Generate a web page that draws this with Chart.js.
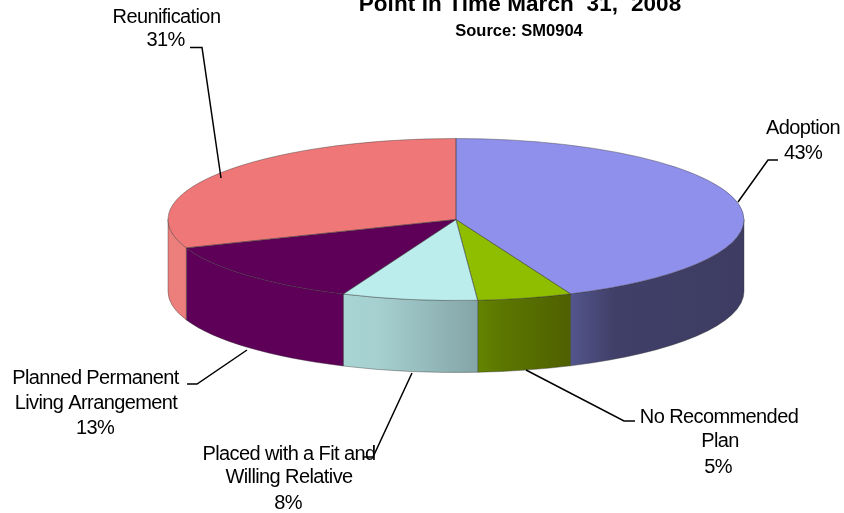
<!DOCTYPE html>
<html>
<head>
<meta charset="utf-8">
<style>html,body{margin:0;padding:0;background:#fff}#wrap{width:844px;height:513px}</style>
<script src="https://cdn.jsdelivr.net/npm/chart.js@4"></script>
</head>
<body>
<div id="wrap"><canvas id="c" width="844" height="513"></canvas></div>
<script>
const categories = ["Adoption","No Recommended Plan","Placed with a Fit and Willing Relative","Planned Permanent Living Arrangement","Reunification"];
const values = [43.49, 5.31, 7.6, 12.9, 30.7];
const faceColors = ["#8f8fec","#8fbe00","#bbeded","#5f0058","#ef7777"];
const wallStops = [
  ["#53568e","#403f68","#3e3c62"],
  ["#648400","#5c7700","#4f6000"],
  ["#a8d4d4","#a6d0d0","#84a5a8"],
  ["#5f0058","#5f0058","#5f0058"],
  ["#ec7f7b","#ec7f7b","#ec7f7b"]
];
const titleText = "Point In Time March  31,  2008";
const sourceText = "Source: SM0904";

const PIE = {x:456, y:219.5, rx:288, ry:81, depth:72};
const EDGE = "rgba(50,50,50,.5)";

const LABELS = [
  {i:4, lines:[["Reunification",166.5,17],["%",165.5,40]],
   leader:[[190,47.5],[202,47.5],[221,178]]},
  {i:0, lines:[["Adoption",803,128],["%",803,153]],
   leader:[[778,160],[768,160],[738,202]]},
  {i:3, lines:[["Planned Permanent",95.5,378.5],["Living Arrangement",96,403],["%",95,428]],
   leader:[[187,384],[197,384],[247,350]]},
  {i:2, lines:[["Placed with a Fit and",289,454],["Willing Relative",289,477],["%",288,503]],
   leader:[[363,457],[373,457],[412,373]]},
  {i:1, lines:[["No Recommended",719,417],["Plan",720,441],["%",718,467]],
   leader:[[635,421],[624,421],[526,370]]}
];

const pie3d = {
  id:"pie3d",
  beforeDatasetsDraw(chart){
    const ctx = chart.ctx;
    chart.getDatasetMeta(0).data.forEach((arc,i)=>{
      const s = Math.max(arc.startAngle,0), e = Math.min(arc.endAngle,Math.PI);
      if (e <= s) return;
      const x0 = PIE.x + PIE.rx*Math.cos(s), x1 = PIE.x + PIE.rx*Math.cos(e);
      const g = ctx.createLinearGradient(Math.min(x0,x1),0,Math.max(x0,x1),0);
      const st = wallStops[i];
      g.addColorStop(0, st[0]); g.addColorStop(.25, st[1]); g.addColorStop(1, st[2]);
      ctx.beginPath();
      ctx.ellipse(PIE.x,PIE.y,PIE.rx,PIE.ry,0,s,e);
      ctx.ellipse(PIE.x,PIE.y+PIE.depth,PIE.rx,PIE.ry,0,e,s,true);
      ctx.closePath();
      ctx.fillStyle = g; ctx.fill();
      ctx.strokeStyle = EDGE; ctx.lineWidth = .8; ctx.stroke();
    });
  },
  beforeDatasetDraw(chart){
    const ctx = chart.ctx, a = chart.getDatasetMeta(0).data[0];
    ctx.save();
    ctx.translate(PIE.x,PIE.y);
    ctx.scale(PIE.rx/a.outerRadius,PIE.ry/a.outerRadius);
    ctx.translate(-a.x,-a.y);
  },
  afterDatasetDraw(chart){
    const ctx = chart.ctx;
    ctx.restore();
    chart.getDatasetMeta(0).data.forEach(arc=>{
      ctx.beginPath();
      ctx.moveTo(PIE.x,PIE.y);
      ctx.ellipse(PIE.x,PIE.y,PIE.rx,PIE.ry,0,arc.startAngle,arc.endAngle);
      ctx.closePath();
      ctx.strokeStyle = EDGE; ctx.lineWidth = .8; ctx.stroke();
    });
  },
  afterDraw(chart){
    const ctx = chart.ctx;
    ctx.save();
    ctx.strokeStyle = "#000"; ctx.lineWidth = 1.5; ctx.lineJoin = "miter";
    LABELS.forEach(l=>{
      ctx.beginPath();
      l.leader.forEach((p,k)=> k ? ctx.lineTo(p[0],p[1]) : ctx.moveTo(p[0],p[1]));
      ctx.stroke();
    });
    ctx.fillStyle = "#000"; ctx.textAlign = "center"; ctx.textBaseline = "middle";
    ctx.font = '20px "Liberation Sans"'; ctx.letterSpacing = "-0.6px";
    LABELS.forEach(l=>{
      l.lines.forEach(t=>{
        const s = t[0]==="%" ? Math.round(values[l.i])+"%" : t[0];
        ctx.fillText(s,t[1],t[2]);
      });
    });
    ctx.font = 'bold 22.5px "Liberation Sans"'; ctx.letterSpacing = "0.1px";
    ctx.fillText(titleText,520,5);
    ctx.font = 'bold 16.5px "Liberation Sans"'; ctx.letterSpacing = "0px";
    ctx.fillText(sourceText,519,31.5);
    ctx.restore();
  }
};

new Chart(document.getElementById("c"),{
  type:"pie",
  data:{labels:categories,datasets:[{data:values,backgroundColor:faceColors,borderWidth:0,hoverOffset:0}]},
  options:{
    responsive:false,animation:false,
    events:[],
    layout:{padding:0},
    plugins:{legend:{display:false},title:{display:false},tooltip:{enabled:false}}
  },
  plugins:[pie3d]
});
</script>
</body>
</html>
